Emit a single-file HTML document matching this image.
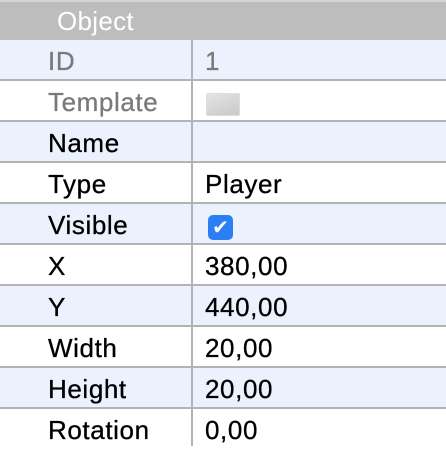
<!DOCTYPE html><html><head><style>
body{margin:0;width:446px;height:446px;overflow:hidden;background:#fff;font-family:"Liberation Sans",sans-serif}
.h{position:absolute;left:0;top:0;width:446px;height:40px;background:#bdbdbd;border-top:2px solid #d4d4d4;box-sizing:border-box}
.h span{position:absolute;left:57px;top:4px;font-size:26px;color:#fff;letter-spacing:0.3px}
.r{position:absolute;left:0;width:446px;height:41px;border-bottom:2px solid #b3b3b3;box-sizing:border-box;font-size:26px;color:#000;letter-spacing:0.6px;-webkit-text-stroke:0.3px currentColor}
.b{background:#ebf1fd}
.r .l{position:absolute;left:48px;top:6px}
.r .v{position:absolute;left:205px;top:6px}
.d{position:absolute;left:191px;top:40px;width:2px;height:406px;background:#b3b3b3}
.g{color:#7a7a7a}
</style></head><body>
<div class="h"><span>Object</span></div>
<div class="r b" style="top:40px"><span class="l g">ID</span><span class="v g">1</span></div>
<div class="r" style="top:81px"><span class="l g">Template</span><span style="position:absolute;left:206px;top:12px;width:32px;height:21px;background:linear-gradient(160deg,#e4e4e4,#c9c9c9);border:1px solid #ddd;border-radius:2px"></span></div>
<div class="r b" style="top:122px"><span class="l">Name</span></div>
<div class="r" style="top:163px"><span class="l">Type</span><span class="v">Player</span></div>
<div class="r b" style="top:204px"><span class="l">Visible</span><span style="position:absolute;left:208px;top:11px;width:25px;height:25px;background:#2a7ff5;border-radius:5px;color:#fff;font-size:20px;line-height:25px;text-align:center;font-family:'DejaVu Sans',sans-serif;-webkit-text-stroke:0;letter-spacing:0">✔</span></div>
<div class="r" style="top:245px"><span class="l">X</span><span class="v">380,00</span></div>
<div class="r b" style="top:286px"><span class="l">Y</span><span class="v">440,00</span></div>
<div class="r" style="top:327px"><span class="l">Width</span><span class="v">20,00</span></div>
<div class="r b" style="top:368px"><span class="l">Height</span><span class="v">20,00</span></div>
<div class="r" style="top:409px;border:none"><span class="l">Rotation</span><span class="v">0,00</span></div>
<div class="d"></div>
</body></html>
